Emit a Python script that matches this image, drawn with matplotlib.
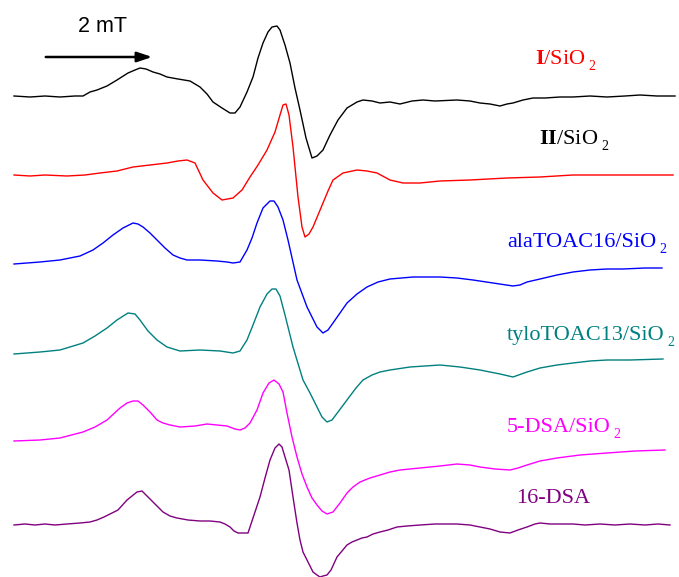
import matplotlib
matplotlib.use("Agg")
import matplotlib.pyplot as plt

plt.rcParams['mathtext.fontset'] = 'custom'
plt.rcParams['mathtext.rm'] = 'Liberation Serif'
plt.rcParams['mathtext.bf'] = 'Liberation Serif:bold'

# ---- EPR spectra (field position, signal) ----
field_I = [14, 30, 45, 60, 75, 83, 90, 97, 107, 117, 128, 135, 140, 146, 153, 160, 167, 178, 190, 200, 207, 213, 222, 230, 235, 240, 247, 253, 258, 263, 268, 272, 277, 280, 285, 290, 295, 300, 306, 312, 317, 323, 330, 338, 347, 357, 363, 372, 380, 390, 400, 412, 423, 435, 457, 470, 480, 490, 500, 507, 513, 523, 533, 545, 560, 573, 590, 607, 625, 640, 657, 675]
signal_I = [96, 97, 96, 97, 96, 96, 92, 90, 86, 80, 73, 70, 68, 69, 72, 74, 77, 79, 81, 87, 94, 102, 108, 113, 113, 107, 92, 77, 58, 43, 32, 27, 26, 30, 45, 63, 88, 110, 138, 158, 156, 150, 135, 120, 108, 102, 100, 101, 103, 102, 104, 101, 100, 101, 100, 101, 103, 104, 106, 104, 103, 100, 98, 98, 97, 97, 96, 97, 96, 95, 96, 96]

field_II = [14, 30, 45, 67, 85, 100, 117, 133, 150, 167, 178, 187, 195, 203, 213, 222, 233, 242, 250, 258, 267, 275, 280, 283, 286, 289, 293, 298, 302, 305, 309, 313, 318, 323, 328, 333, 343, 357, 367, 377, 390, 403, 420, 440, 470, 507, 540, 573, 610, 640, 673]
signal_II = [175, 176, 175, 176, 175, 173, 171, 167, 165, 163, 161, 160, 163, 180, 193, 200, 198, 190, 177, 165, 150, 132, 115, 105, 104, 115, 147, 197, 227, 237, 234, 227, 215, 203, 191, 180, 173, 170, 171, 173, 180, 183, 183, 181, 180, 178, 177, 175, 175, 175, 175]

field_ala = [14, 40, 60, 80, 93, 103, 113, 123, 133, 138, 143, 150, 157, 165, 173, 180, 187, 200, 217, 227, 233, 240, 247, 252, 257, 263, 270, 274, 278, 283, 288, 297, 307, 317, 323, 328, 333, 340, 347, 357, 367, 378, 390, 413, 440, 457, 473, 493, 513, 520, 527, 540, 557, 573, 590, 607, 623, 645, 662]
signal_ala = [264, 262, 260, 256, 250, 243, 235, 228, 223, 224, 227, 233, 240, 248, 255, 258, 260, 260, 261, 262, 263, 262, 250, 238, 223, 208, 201, 201, 207, 220, 240, 280, 307, 327, 333, 330, 323, 313, 303, 294, 287, 282, 279, 277, 277, 278, 280, 283, 286, 285, 282, 279, 275, 272, 270, 269, 269, 268, 268]

field_tylo = [14, 40, 60, 83, 95, 107, 117, 128, 135, 140, 148, 157, 167, 180, 200, 220, 233, 240, 247, 253, 260, 267, 272, 276, 280, 285, 293, 303, 310, 317, 322, 327, 332, 338, 347, 356, 363, 372, 380, 390, 410, 440, 460, 480, 500, 513, 527, 540, 557, 573, 590, 607, 630, 663]
signal_tylo = [354, 352, 350, 343, 336, 328, 320, 313, 314, 320, 331, 340, 347, 351, 350, 351, 353, 351, 340, 325, 307, 294, 289, 289, 296, 315, 347, 380, 393, 407, 417, 422, 420, 412, 400, 388, 380, 375, 372, 370, 367, 365, 367, 370, 374, 377, 372, 368, 365, 363, 361, 360, 360, 359]

field_5DSA = [14, 40, 60, 83, 95, 107, 120, 127, 133, 138, 143, 150, 157, 163, 170, 180, 195, 207, 217, 227, 235, 240, 245, 250, 257, 263, 269, 274, 279, 283, 287, 292, 297, 302, 307, 312, 317, 322, 327, 333, 340, 347, 353, 360, 370, 380, 390, 400, 410, 420, 440, 457, 470, 480, 495, 510, 518, 527, 540, 557, 580, 607, 635, 665]
signal_5DSA = [441, 440, 438, 432, 427, 420, 408, 403, 401, 401, 405, 412, 420, 423, 425, 427, 426, 424, 425, 426, 429, 430, 428, 423, 410, 393, 383, 380, 384, 392, 413, 437, 457, 474, 487, 498, 505, 511, 514, 512, 503, 493, 487, 482, 478, 475, 472, 470, 469, 468, 466, 464, 465, 467, 469, 470, 468, 465, 461, 458, 455, 453, 451, 450]

field_16DSA = [14, 25, 35, 45, 55, 67, 80, 90, 97, 104, 110, 118, 127, 132, 137, 142, 147, 155, 163, 170, 177, 188, 200, 210, 220, 225, 230, 234, 238, 243, 248, 254, 260, 265, 270, 275, 279, 282, 285, 289, 293, 297, 300, 303, 307, 310, 313, 317, 320, 323, 327, 331, 337, 342, 347, 352, 357, 362, 367, 373, 380, 388, 397, 407, 420, 435, 457, 470, 480, 490, 500, 510, 518, 527, 535, 540, 550, 560, 573, 585, 600, 615, 630, 645, 658, 670]
signal_16DSA = [525, 524, 525, 524, 525, 524, 523, 522, 520, 517, 514, 510, 500, 496, 492, 491, 496, 504, 512, 516, 518, 520, 521, 521, 522, 524, 527, 531, 533, 533, 533, 515, 497, 478, 460, 448, 444, 447, 457, 470, 497, 523, 540, 552, 560, 566, 572, 575, 577, 576, 575, 570, 557, 551, 545, 542, 540, 538, 537, 534, 532, 530, 527, 526, 525, 524, 524, 525, 527, 529, 532, 533, 530, 527, 524, 523, 524, 524, 524, 525, 524, 525, 524, 525, 524, 525]

fields = [field_I, field_II, field_ala, field_tylo, field_5DSA, field_16DSA]
signals = [signal_I, signal_II, signal_ala, signal_tylo, signal_5DSA, signal_16DSA]
colors = ['#000000', '#ff0000', '#0000ff', '#008080', '#ff00ff', '#800080']

labels = [r'$\mathbf{I}$/SiO', r'$\mathbf{II}$/SiO', 'alaTOAC16/SiO',
          'tyloTOAC13/SiO', '5-DSA/SiO', '16-DSA']
label_subs = ['2', '2', '2', '2', '2', '']
label_colors = ['#ff0000', '#000000', '#0000ff', '#008080', '#ff00ff', '#800080']
label_pos = [(535, 64), (539, 144), (507, 247), (507, 340), (507, 432), (516, 503)]

fig = plt.figure(figsize=(6.79, 5.77), dpi=100)
ax = fig.add_axes([0, 0, 1, 1])
ax.set_xlim(0, 679)
ax.set_ylim(577, 0)
ax.axis('off')

for f, s, c in zip(fields, signals, colors):
    ax.plot(f, s, color=c, lw=1.0)

renderer = fig.canvas.get_renderer()
for lab, sub, col, (x, y) in zip(labels, label_subs, label_colors, label_pos):
    t = ax.text(x, y, lab, color=col, fontsize=16, family='Liberation Serif',
                ha='left', va='baseline')
    if sub:
        bb = t.get_window_extent(renderer)
        xr = ax.transData.inverted().transform((bb.x1, bb.y0))[0]
        ax.text(xr + 3, y + 6, sub, color=col, fontsize=10, family='Liberation Serif',
                ha='left', va='baseline')

# scale bar
ax.annotate('', xy=(155, 57), xytext=(43, 57),
            arrowprops=dict(arrowstyle='-|>,head_length=0.9,head_width=0.3',
                            color='black', lw=1.8))
ax.text(78, 32, '2 mT', fontsize=15.5, family='Liberation Sans', ha='left', va='baseline')

fig.savefig('out.png', dpi=100)
